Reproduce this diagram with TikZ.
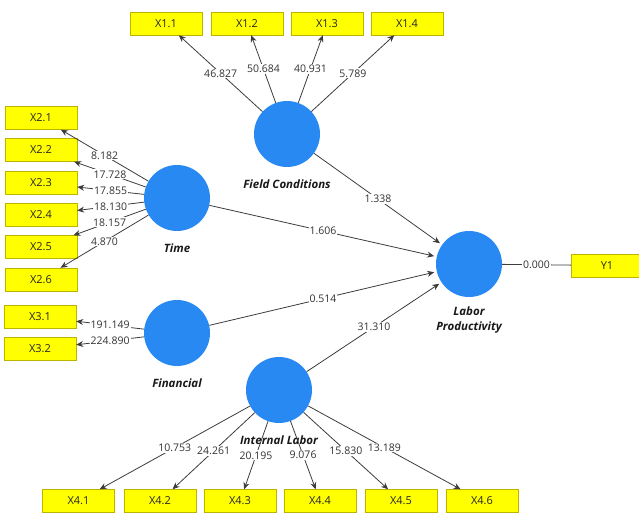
\documentclass[tikz,border=0pt]{standalone}
\usepackage{fontspec}
\setmainfont{Open Sans}
\usetikzlibrary{positioning,arrows.meta}
\definecolor{latBlue}{RGB}{40,137,243}
\definecolor{indYellow}{RGB}{255,255,0}
\definecolor{indBorder}{RGB}{190,180,0}
\definecolor{pathGray}{RGB}{60,60,60}

\begin{document}
\begin{tikzpicture}
  [x=1pt,y=-1pt,
   latN/.style={circle,fill=latBlue,minimum size=66pt,inner sep=0pt},
   latL/.style={font=\bfseries\itshape\fontsize{11.5}{15}\selectfont,align=center,text=black!90},
   indN/.style={draw=indBorder,fill=indYellow,minimum width=72pt,minimum height=23pt,inner sep=0pt,font=\fontsize{11}{12}\selectfont,text=black!85},
   loadE/.style={draw=pathGray,line width=0.8pt,-{Stealth[length=7pt,width=6pt]}},
   pathE/.style={loadE,shorten >=2.5pt},
   valL/.style={fill=white,inner sep=1pt,font=\fontsize{10.5}{12}\selectfont,text=black!80},
  ]
 \useasboundingbox (0,0) rectangle (639,513);

 % latent variables
 \node[latN] (fc) at (287,134) {};
 \node[latN] (tm) at (177,198) {};
 \node[latN] (fn) at (177,333) {};
 \node[latN] (il) at (279,390) {};
 \node[latN] (lp) at (469,264) {};

 \node[latL,below=9pt of fc] {Field Conditions};
 \node[latL,below=9pt of tm] {Time};
 \node[latL,below=9pt of fn] {Financial};
 \node[latL,below=9pt of il] {Internal Labor};
 \node[latL,below=6pt of lp] {Labor\\Productivity};

 % indicators
 \node[indN] (x11) at (166,23.5) {X1.1};
 \node[indN] (x12) at (247,23.5) {X1.2};
 \node[indN] (x13) at (327,23.5) {X1.3};
 \node[indN] (x14) at (407,23.5) {X1.4};

 \node[indN] (x21) at (41,118) {X2.1};
 \node[indN] (x22) at (41,150) {X2.2};
 \node[indN] (x23) at (41,183) {X2.3};
 \node[indN] (x24) at (41,215) {X2.4};
 \node[indN] (x25) at (41,247) {X2.5};
 \node[indN] (x26) at (41,279.5) {X2.6};

 \node[indN] (x31) at (40,317) {X3.1};
 \node[indN] (x32) at (40,349) {X3.2};

 \node[indN] (x41) at (78.5,501) {X4.1};
 \node[indN] (x42) at (160,501) {X4.2};
 \node[indN] (x43) at (240,501) {X4.3};
 \node[indN] (x44) at (320,501) {X4.4};
 \node[indN] (x45) at (401,501) {X4.5};
 \node[indN] (x46) at (482,501) {X4.6};

 \node[indN] (y1) at (607,265.5) {Y1};

 % outer loadings
 \draw[loadE] (fc) -- node[valL] {46.827} (x11);
 \draw[loadE] (fc) -- node[valL] {50.684} (x12);
 \draw[loadE] (fc) -- node[valL] {40.931} (x13);
 \draw[loadE] (fc) -- node[valL] {5.789} (x14);

 \draw[loadE] (tm) -- node[valL] {8.182} (x21);
 \draw[loadE] (tm) -- node[valL] {17.728} (x22);
 \draw[loadE] (tm) -- node[valL] {17.855} (x23);
 \draw[loadE] (tm) -- node[valL] {18.130} (x24);
 \draw[loadE] (tm) -- node[valL] {18.157} (x25);
 \draw[loadE] (tm) -- node[valL] {4.870} (x26);

 \draw[loadE] (fn) -- node[valL] {191.149} (x31);
 \draw[loadE] (fn) -- node[valL] {224.890} (x32);

 \draw[loadE] (il) -- node[valL] {10.753} (x41);
 \draw[loadE] (il) -- node[valL] {24.261} (x42);
 \draw[loadE] (il) -- node[valL] {20.195} (x43);
 \draw[loadE] (il) -- node[valL] {9.076} (x44);
 \draw[loadE] (il) -- node[valL] {15.830} (x45);
 \draw[loadE] (il) -- node[valL] {13.189} (x46);

 \draw[draw=pathGray,line width=0.8pt] (lp) -- node[valL] {0.000} (y1);

 % inner model
 \draw[pathE] (fc) -- node[valL] {1.338} (lp);
 \draw[pathE] (tm) -- node[valL] {1.606} (lp);
 \draw[pathE] (fn) -- node[valL] {0.514} (lp);
 \draw[pathE] (il) -- node[valL] {31.310} (lp);
\end{tikzpicture}
\end{document}
